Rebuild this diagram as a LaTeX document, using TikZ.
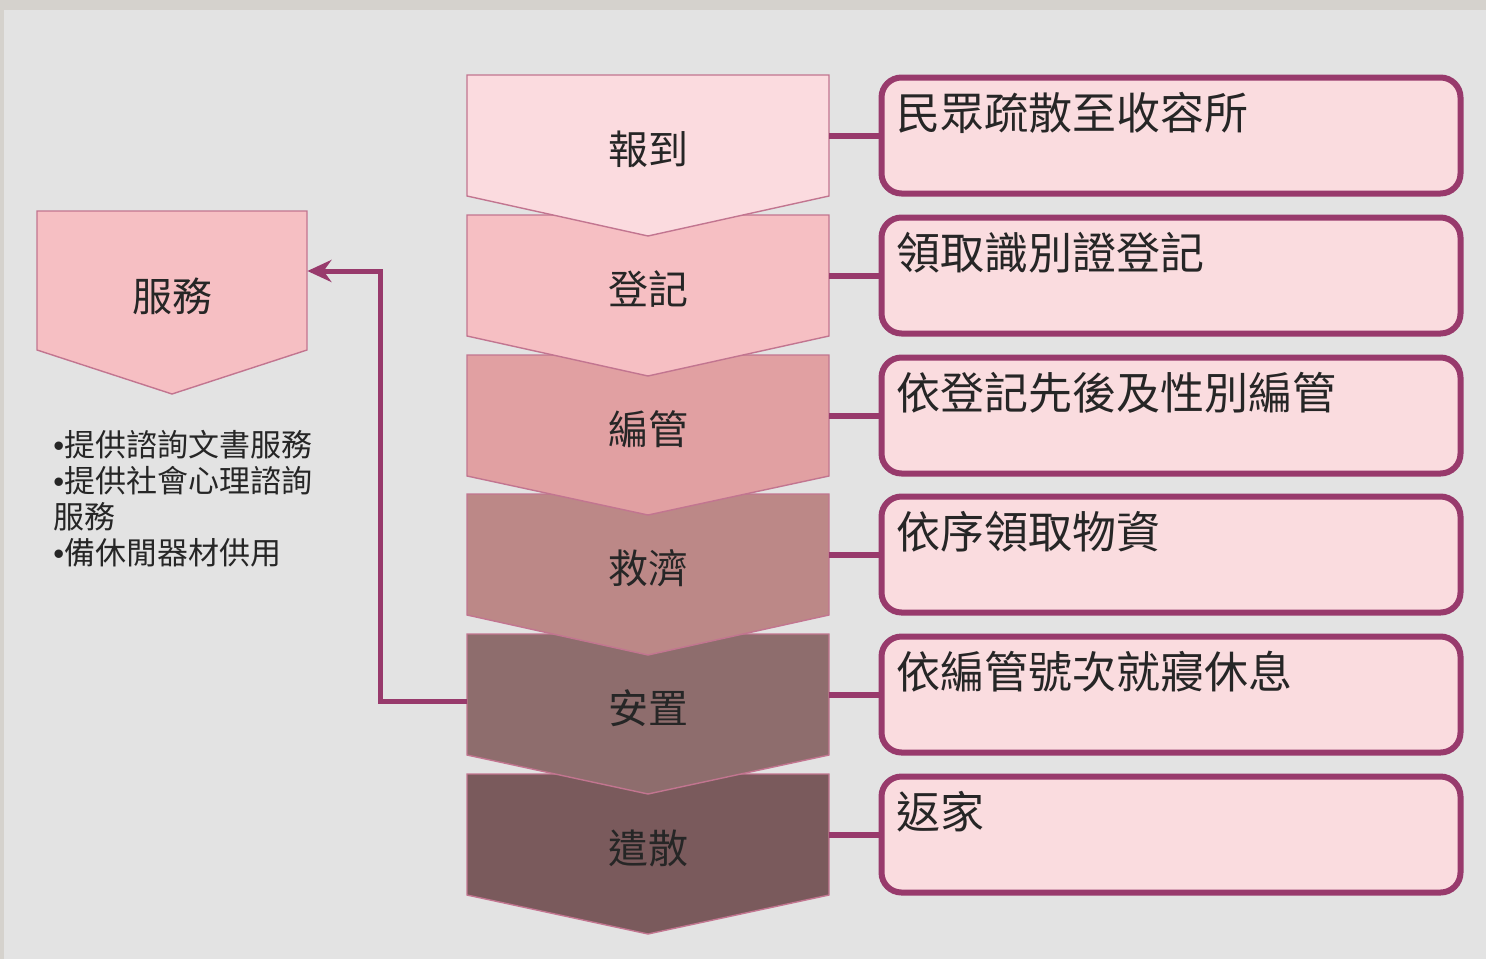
\documentclass[tikz,border=0pt]{standalone}
\usepackage{fontspec}
\setmainfont{Noto Sans CJK TC}
\newfontfamily\bulletfont{Liberation Sans}
\usetikzlibrary{arrows.meta}

\definecolor{bggray}{HTML}{E3E3E3}
\definecolor{edgegray}{HTML}{D5D2CD}
\definecolor{plum}{HTML}{983A6C}
\definecolor{chevline}{HTML}{C27590}
\definecolor{boxpink}{HTML}{FADCDF}
\definecolor{stepA}{HTML}{FBDBDF}
\definecolor{stepB}{HTML}{F6BFC3}
\definecolor{stepC}{HTML}{E1A0A2}
\definecolor{stepD}{HTML}{BC8887}
\definecolor{stepE}{HTML}{8E6D6D}
\definecolor{stepF}{HTML}{7A5A5C}
\definecolor{inktext}{HTML}{262626}

\newcommand\svcbullet{{\bulletfont •}}

\begin{document}
\begin{tikzpicture}[x=0.5pt, y=-0.5pt,
  chev/.style={draw=chevline, line width=0.7pt, line join=miter},
  chevbox/.style={minimum width=181pt, minimum height=60.5pt, inner sep=0pt},
  chevtext/.style={font=\fontsize{20}{24}\selectfont, text=inktext, yshift=-6.75pt},
  infobox/.style={draw=plum, line width=3pt, fill=boxpink, rounded corners=10pt,
    minimum width=289.5pt, minimum height=58pt, inner sep=0pt},
  infotext/.style={anchor=north west, inner sep=0pt, xshift=9pt, yshift=-8.5pt,
    font=\fontsize{22}{26}\selectfont, text=inktext},
  link/.style={draw=plum, line width=3pt},
  flow/.style={draw=plum, line width=2.5pt, -{Stealth[length=12pt,width=11pt]}}
]

  %% page
  \useasboundingbox (0,0) rectangle (1486,959);
  \fill[bggray] (0,0) rectangle (1486,959);
  \fill[edgegray] (0,0) rectangle (1486,10);
  \fill[edgegray] (0,0) rectangle (4,959);

  %% steps, drawn bottom up so each point lies on the next step
  \draw[chev, fill=stepF] (467,774) -- (829,774) -- (829,895) -- (648,934) -- (467,895) -- cycle; %% 6
  \draw[chev, fill=stepE] (467,634) -- (829,634) -- (829,755) -- (648,794) -- (467,755) -- cycle; %% 5
  \draw[chev, fill=stepD] (467,494) -- (829,494) -- (829,615) -- (648,655) -- (467,615) -- cycle; %% 4
  \draw[chev, fill=stepC] (467,355) -- (829,355) -- (829,476) -- (648,515) -- (467,476) -- cycle; %% 3
  \draw[chev, fill=stepB] (467,215) -- (829,215) -- (829,336) -- (648,376) -- (467,336) -- cycle; %% 2
  \draw[chev, fill=stepA] (467,75) -- (829,75) -- (829,196) -- (648,236) -- (467,196) -- cycle; %% 1

  \node[chevbox, label={[chevtext]center:報到}] (c1) at (648,135.5) {};
  \node[chevbox, label={[chevtext]center:登記}] (c2) at (648,275.5) {};
  \node[chevbox, label={[chevtext]center:編管}] (c3) at (648,415.5) {};
  \node[chevbox, label={[chevtext]center:救濟}] (c4) at (648,554.5) {};
  \node[chevbox, label={[chevtext]center:安置}] (c5) at (648,694.5) {};
  \node[chevbox, label={[chevtext]center:遣散}] (c6) at (648,834.5) {};

  %% detail boxes
  \node[infobox, label={[infotext]north west:民眾疏散至收容所}] (b1) at (1171,135.5) {};
  \node[infobox, label={[infotext]north west:領取識別證登記}] (b2) at (1171,275.5) {};
  \node[infobox, label={[infotext]north west:依登記先後及性別編管}] (b3) at (1171,415.5) {};
  \node[infobox, label={[infotext]north west:依序領取物資}] (b4) at (1171,554.5) {};
  \node[infobox, label={[infotext]north west:依編管號次就寢休息}] (b5) at (1171,694.5) {};
  \node[infobox, label={[infotext]north west:返家}] (b6) at (1171,834.5) {};

  %% step to box
  \draw[link] (c1.east) -- (b1.west);
  \draw[link] (c2.east) -- (b2.west);
  \draw[link] (c3.east) -- (b3.west);
  \draw[link] (c4.east) -- (b4.west);
  \draw[link] (c5.east) -- (b5.west);
  \draw[link] (c6.east) -- (b6.west);

  %% service
  \draw[chev, fill=stepB] (37,211) -- (307,211) -- (307,350) -- (172,394) -- (37,350) -- cycle;
  \node[chevbox, minimum width=135pt, minimum height=69.5pt,
    label={[chevtext, yshift=-1pt]center:服務}] (srv) at (172,280.5) {};
  \node[anchor=north west, inner sep=0pt, align=left, text=inktext,
    font=\fontsize{15.5}{17.9}\selectfont] (srvlist) at (53,430)
    {\svcbullet 提供諮詢文書服務\\\svcbullet 提供社會心理諮詢\\服務\\\svcbullet 備休閒器材供用};

  %% placement back to service
  \draw[flow] ([yshift=-3.5pt]c5.west) -- ++(-86,0) |- ([yshift=4.75pt]srv.east);

\end{tikzpicture}
\end{document}
